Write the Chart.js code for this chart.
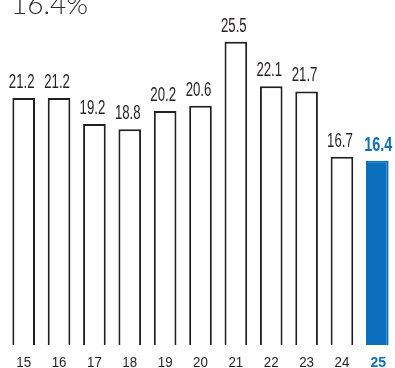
<!DOCTYPE html>
<html>
<head>
<meta charset="utf-8">
<script src="https://cdn.jsdelivr.net/npm/chart.js@4/dist/chart.umd.min.js"></script>
<style>
  html, body { margin: 0; padding: 0; background: #fff; }
  #wrap { position: relative; width: 395px; height: 368px; }
</style>
</head>
<body>
<div id="wrap"><canvas id="c"></canvas></div>
<script>
// Fiscal years and the ratio for each year (%)
const years = ['15', '16', '17', '18', '19', '20', '21', '22', '23', '24', '25'];
const ratios = [21.2, 21.2, 19.2, 18.8, 20.2, 20.6, 25.5, 22.1, 21.7, 16.7, 16.4];
const headline = '16.4%';

const BLUE = '#0b6fbd';
const INK = '#231f20';
const last = years.length - 1;

const SANS = "'Liberation Sans', Arial, sans-serif";

// Condensed text: a regular face squeezed horizontally
function condensedText(ctx, text, x, y, sx, font, color) {
  ctx.save();
  ctx.translate(x, y);
  ctx.scale(sx, 1);
  ctx.textAlign = 'center';
  ctx.textBaseline = 'alphabetic';
  ctx.fillStyle = color;
  ctx.font = font;
  ctx.fillText(text, 0, 0);
  ctx.restore();
}

// Headline figure, value above each bar and year under each bar
const annotate = {
  id: 'annotate',
  afterDatasetsDraw(chart) {
    const ctx = chart.ctx;
    ctx.save();
    ctx.fillStyle = '#2b2b2b';
    ctx.font = "300 28px Lato, 'Open Sans', sans-serif";
    ctx.textAlign = 'left';
    ctx.textBaseline = 'alphabetic';
    ctx.fillText(headline, 11, 14);
    ctx.restore();

    const meta = chart.getDatasetMeta(0);
    const xScale = chart.scales.x;
    const bottom = chart.chartArea.bottom;
    meta.data.forEach((bar, i) => {
      const v = chart.data.datasets[0].data[i];
      const hi = i === last;
      condensedText(ctx, v.toFixed(1), bar.x + (hi ? 1 : -2), bar.y - 10, hi ? 0.72 : 0.66,
        (hi ? 'bold ' : '') + '20px ' + SANS, hi ? BLUE : INK);
      const tx = xScale.getPixelForValue(i);
      condensedText(ctx, chart.data.labels[i], tx + (hi ? 1 : 0), bottom + 22, hi ? 0.9 : 0.86,
        (hi ? 'bold ' : '') + '15.5px ' + SANS, hi ? BLUE : INK);
    });
  }
};

new Chart(document.getElementById('c'), {
  type: 'bar',
  data: {
    labels: years,
    datasets: [{
      data: ratios,
      backgroundColor: ratios.map((_, i) => i === last ? BLUE : '#ffffff'),
      borderColor: ratios.map((_, i) => i === last ? BLUE : INK),
      borderWidth: 2,
      borderSkipped: false,
      barPercentage: 0.64,
      categoryPercentage: 1
    }]
  },
  options: {
    responsive: true,
    maintainAspectRatio: false,
    animation: false,
    layout: { padding: { top: 30, left: 6, right: 0, bottom: 23 } },
    plugins: { legend: { display: false }, tooltip: { enabled: false } },
    scales: {
      x: { display: false },
      y: { display: false, min: 2.3, max: 26.4 }
    }
  },
  plugins: [annotate]
});
</script>
</body>
</html>
